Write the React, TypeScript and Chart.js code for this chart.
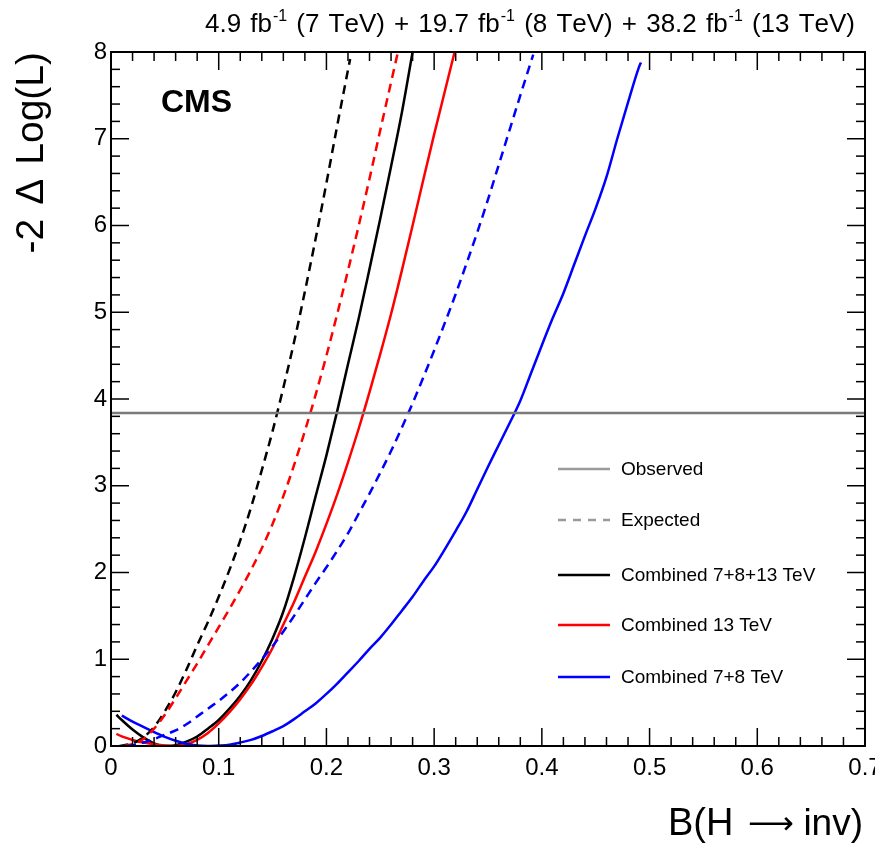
import React, { useEffect, useRef } from "react";
import { Chart, registerables } from "chart.js";
Chart.register(...registerables);

// ---- axes ----
const xTickValues = [0, 0.1, 0.2, 0.3, 0.4, 0.5, 0.6, 0.7];
const xTickLabels = ["0", "0.1", "0.2", "0.3", "0.4", "0.5", "0.6", "0.7"];
const yTickValues = [0, 1, 2, 3, 4, 5, 6, 7, 8];
const yTickLabels = ["0", "1", "2", "3", "4", "5", "6", "7", "8"];

// 95% CL threshold line (-2 dLogL = 3.84)
const thresholdX = [0, 0.7];
const thresholdY = [3.84, 3.84];

// ---- Combined 7+8+13 TeV ----
const combObsX = [0.005, 0.01, 0.02, 0.03, 0.04, 0.05, 0.06, 0.07, 0.08, 0.09, 0.1, 0.11, 0.12, 0.13, 0.14, 0.15, 0.16, 0.17, 0.18, 0.19, 0.2, 0.21, 0.22, 0.23, 0.24, 0.25, 0.26, 0.27, 0.28];
const combObsY = [0.36, 0.3, 0.19, 0.1, 0.03, 0.0, 0.01, 0.05, 0.11, 0.2, 0.3, 0.43, 0.58, 0.76, 0.98, 1.24, 1.55, 1.95, 2.4, 2.88, 3.35, 3.86, 4.4, 4.93, 5.5, 6.08, 6.68, 7.3, 8.0];
const combExpX = [0.008, 0.02, 0.03, 0.04, 0.05, 0.06, 0.07, 0.08, 0.09, 0.1, 0.11, 0.12, 0.13, 0.14, 0.15, 0.16, 0.17, 0.18, 0.19, 0.2, 0.21, 0.222];
const combExpY = [0.0, 0.03, 0.1, 0.22, 0.4, 0.62, 0.88, 1.16, 1.43, 1.72, 2.03, 2.37, 2.75, 3.18, 3.63, 4.13, 4.66, 5.24, 5.85, 6.49, 7.15, 7.92];

// ---- Combined 13 TeV ----
const tev13ObsX = [0.005, 0.01, 0.02, 0.03, 0.04, 0.05, 0.06, 0.07, 0.08, 0.09, 0.1, 0.11, 0.12, 0.13, 0.14, 0.15, 0.16, 0.17, 0.18, 0.19, 0.2, 0.21, 0.22, 0.23, 0.24, 0.25, 0.26, 0.27, 0.28, 0.29, 0.3, 0.31, 0.32];
const tev13ObsY = [0.14, 0.11, 0.07, 0.04, 0.02, 0.005, 0.0, 0.02, 0.07, 0.15, 0.26, 0.39, 0.54, 0.71, 0.91, 1.13, 1.4, 1.66, 1.95, 2.24, 2.56, 2.9, 3.27, 3.66, 4.08, 4.52, 4.98, 5.48, 6.0, 6.53, 7.05, 7.55, 8.05];
const tev13ExpX = [0.012, 0.02, 0.03, 0.04, 0.05, 0.06, 0.07, 0.08, 0.09, 0.1, 0.11, 0.12, 0.13, 0.14, 0.15, 0.16, 0.17, 0.18, 0.19, 0.2, 0.21, 0.22, 0.23, 0.24, 0.25, 0.26, 0.266];
const tev13ExpY = [0.0, 0.02, 0.08, 0.2, 0.36, 0.55, 0.75, 0.95, 1.16, 1.37, 1.58, 1.8, 2.03, 2.28, 2.56, 2.88, 3.24, 3.63, 4.05, 4.5, 4.98, 5.48, 6.0, 6.54, 7.1, 7.65, 7.98];

// ---- Combined 7+8 TeV ----
const tev78ObsX = [0.01, 0.02, 0.03, 0.04, 0.05, 0.06, 0.07, 0.08, 0.09, 0.1, 0.11, 0.12, 0.13, 0.14, 0.15, 0.16, 0.17, 0.18, 0.19, 0.2, 0.21, 0.22, 0.23, 0.24, 0.25, 0.26, 0.27, 0.28, 0.29, 0.3, 0.31, 0.32, 0.33, 0.34, 0.35, 0.36, 0.37, 0.38, 0.39, 0.4, 0.41, 0.42, 0.43, 0.44, 0.45, 0.46, 0.47, 0.48, 0.49, 0.492];
const tev78ObsY = [0.35, 0.28, 0.22, 0.16, 0.105, 0.06, 0.025, 0.005, 0.0, 0.005, 0.015, 0.04, 0.07, 0.115, 0.17, 0.23, 0.31, 0.4, 0.49, 0.6, 0.72, 0.85, 0.98, 1.12, 1.25, 1.4, 1.56, 1.72, 1.9, 2.07, 2.27, 2.48, 2.7, 2.96, 3.22, 3.47, 3.72, 3.98, 4.3, 4.62, 4.93, 5.22, 5.55, 5.88, 6.2, 6.56, 7.0, 7.42, 7.82, 7.88];
const tev78ExpX = [0.015, 0.02, 0.03, 0.04, 0.05, 0.06, 0.07, 0.08, 0.09, 0.1, 0.11, 0.12, 0.13, 0.14, 0.15, 0.16, 0.17, 0.18, 0.19, 0.2, 0.21, 0.22, 0.23, 0.24, 0.25, 0.26, 0.27, 0.28, 0.29, 0.3, 0.31, 0.32, 0.33, 0.34, 0.35, 0.36, 0.37, 0.38, 0.392];
const tev78ExpY = [0.0, 0.01, 0.04, 0.08, 0.13, 0.18, 0.25, 0.34, 0.43, 0.52, 0.62, 0.73, 0.86, 1.0, 1.15, 1.32, 1.5, 1.69, 1.88, 2.06, 2.25, 2.45, 2.68, 2.91, 3.15, 3.4, 3.67, 3.95, 4.25, 4.56, 4.88, 5.21, 5.56, 5.92, 6.3, 6.7, 7.1, 7.5, 7.97];

const legendLabels = ["Observed", "Expected", "Combined 7+8+13 TeV", "Combined 13 TeV", "Combined 7+8 TeV"];

const FONT = '"Liberation Sans", Arial, Helvetica, sans-serif';
const BLACK = "#000000";
const RED = "#ff0000";
const BLUE = "#0000ff";
const GREY_LINE = "#7a7a7a";
const GREY_LEG = "#9a9a9a";
const DASH = [9, 6];

function pts(xs: number[], ys: number[]) {
  return xs.map((x, i) => ({ x, y: ys[i] }));
}

function line(label: string, xs: number[], ys: number[], color: string, dashed: boolean) {
  return {
    label,
    data: pts(xs, ys),
    borderColor: color,
    backgroundColor: color,
    borderWidth: 2.5,
    borderDash: dashed ? DASH : [],
    pointRadius: 0,
    showLine: true,
    fill: false,
    cubicInterpolationMode: "monotone" as const,
  };
}

const decorPlugin = {
  id: "rootDecor",
  afterDatasetsDraw(chart: any) {
    const { ctx, chartArea: a, scales } = chart;
    const xs = scales.x;
    const ys = scales.y;
    ctx.save();
    // frame
    ctx.strokeStyle = "#000";
    ctx.lineWidth = 2;
    ctx.setLineDash([]);
    ctx.strokeRect(a.left, a.top, a.right - a.left, a.bottom - a.top);
    ctx.lineWidth = 1.5;
    const MAJ = 18;
    const MIN = 9;
    const seg = (x1: number, y1: number, x2: number, y2: number) => {
      ctx.beginPath();
      ctx.moveTo(x1, y1);
      ctx.lineTo(x2, y2);
      ctx.stroke();
    };
    // x ticks (bottom & top)
    for (let i = 0; i < xTickValues.length; i++) {
      const px = xs.getPixelForValue(xTickValues[i]);
      seg(px, a.bottom, px, a.bottom - MAJ);
      seg(px, a.top, px, a.top + MAJ);
      if (i < xTickValues.length - 1) {
        const step = (xTickValues[i + 1] - xTickValues[i]) / 5;
        for (let k = 1; k < 5; k++) {
          const p = xs.getPixelForValue(xTickValues[i] + k * step);
          seg(p, a.bottom, p, a.bottom - MIN);
          seg(p, a.top, p, a.top + MIN);
        }
      }
    }
    // y ticks (left & right)
    for (let i = 0; i < yTickValues.length; i++) {
      const py = ys.getPixelForValue(yTickValues[i]);
      seg(a.left, py, a.left + MAJ, py);
      seg(a.right, py, a.right - MAJ, py);
      if (i < yTickValues.length - 1) {
        const step = (yTickValues[i + 1] - yTickValues[i]) / 5;
        for (let k = 1; k < 5; k++) {
          const p = ys.getPixelForValue(yTickValues[i] + k * step);
          seg(a.left, p, a.left + MIN, p);
          seg(a.right, p, a.right - MIN, p);
        }
      }
    }

    ctx.fillStyle = "#000";
    // CMS label
    ctx.font = `bold 32px ${FONT}`;
    ctx.textAlign = "left";
    ctx.textBaseline = "alphabetic";
    ctx.fillText("CMS", 161, 112);

    // header with superscripts, spanning 205..855
    const parts: { t: string; sup: boolean }[] = [
      { t: "4.9 fb", sup: false },
      { t: "-1", sup: true },
      { t: " (7 TeV) + 19.7 fb", sup: false },
      { t: "-1", sup: true },
      { t: " (8 TeV) + 38.2 fb", sup: false },
      { t: "-1", sup: true },
      { t: " (13 TeV)", sup: false },
    ];
    const NORM = `26px ${FONT}`;
    const SUP = `16px ${FONT}`;
    let natural = 0;
    let spaces = 0;
    for (const p of parts) {
      if (p.sup) {
        ctx.font = SUP;
        natural += ctx.measureText(p.t).width + 1;
      } else {
        ctx.font = NORM;
        for (const ch of p.t) {
          natural += ctx.measureText(ch).width;
          if (ch === " ") spaces++;
        }
      }
    }
    const hx0 = 205;
    const hx1 = 855;
    const extra = (hx1 - hx0 - natural) / spaces;
    let cx = hx0;
    const base = 32;
    for (const p of parts) {
      if (p.sup) {
        ctx.font = SUP;
        ctx.fillText(p.t, cx + 1, base - 11);
        cx += ctx.measureText(p.t).width + 1;
      } else {
        ctx.font = NORM;
        for (const ch of p.t) {
          ctx.fillText(ch, cx, base);
          cx += ctx.measureText(ch).width + (ch === " " ? extra : 0);
        }
      }
    }

    // x-axis title
    ctx.textBaseline = "alphabetic";
    ctx.font = `38px ${FONT}`;
    ctx.textAlign = "left";
    ctx.fillText("B(H", 668, 835);
    ctx.textAlign = "right";
    ctx.font = `37px ${FONT}`;
    ctx.fillText("inv)", 863, 835);
    ctx.textAlign = "center";
    ctx.font = `32px "DejaVu Sans", ${FONT}`;
    ctx.fillText("\u27F6", 771, 834);

    // y-axis title
    ctx.save();
    ctx.translate(43, a.top);
    ctx.rotate(-Math.PI / 2);
    ctx.textAlign = "right";
    ctx.textBaseline = "alphabetic";
    ctx.font = `39px ${FONT}`;
    const yt = ["-2", "\u0394", "Log(L)"];
    let ty = 0;
    for (let i = yt.length - 1; i >= 0; i--) {
      ctx.fillText(yt[i], ty, 0);
      ty -= ctx.measureText(yt[i]).width + 14;
    }
    ctx.restore();

    // legend
    const legColors = [GREY_LEG, GREY_LEG, BLACK, RED, BLUE];
    const legDash = [false, true, false, false, false];
    const rowY = [469, 520, 575, 625, 677];
    ctx.font = `19px ${FONT}`;
    ctx.textAlign = "left";
    ctx.textBaseline = "middle";
    for (let i = 0; i < legendLabels.length; i++) {
      ctx.strokeStyle = legColors[i];
      ctx.lineWidth = 2.5;
      ctx.setLineDash(legDash[i] ? [8, 7] : []);
      seg(558, rowY[i], 610, rowY[i]);
      ctx.setLineDash([]);
      ctx.fillStyle = "#000";
      ctx.fillText(legendLabels[i], 621, rowY[i] + 1);
    }
    ctx.restore();
  },
};

export default function App() {
  const ref = useRef<HTMLCanvasElement>(null);
  useEffect(() => {
    const canvas = ref.current;
    if (!canvas) return;
    const chart = new Chart(canvas, {
      type: "scatter",
      data: {
        datasets: [
          { ...line("Observed", thresholdX, thresholdY, GREY_LINE, false), cubicInterpolationMode: "default" as const },
          line("Expected 7+8 TeV", tev78ExpX, tev78ExpY, BLUE, true),
          line("Expected 13 TeV", tev13ExpX, tev13ExpY, RED, true),
          line("Expected 7+8+13 TeV", combExpX, combExpY, BLACK, true),
          line("Combined 7+8 TeV", tev78ObsX, tev78ObsY, BLUE, false),
          line("Combined 13 TeV", tev13ObsX, tev13ObsY, RED, false),
          line("Combined 7+8+13 TeV", combObsX, combObsY, BLACK, false),
        ] as any,
      },
      options: {
        responsive: false,
        animation: false,
        devicePixelRatio: 1,
        layout: { padding: { top: 52, right: 10, left: 0, bottom: 0 } },
        plugins: { legend: { display: false }, tooltip: { enabled: false }, title: { display: false } },
        scales: {
          x: {
            type: "linear",
            min: xTickValues[0],
            max: xTickValues[xTickValues.length - 1],
            grid: { display: false, drawTicks: false },
            border: { display: false },
            ticks: {
              autoSkip: false,
              maxRotation: 0,
              padding: 8,
              color: "#000",
              font: { family: FONT, size: 24 },
              callback: (_v: any, i: number) => xTickLabels[i],
            },
            afterBuildTicks: (s: any) => {
              s.ticks = xTickValues.map((v) => ({ value: v }));
            },
            afterFit: (s: any) => {
              s.height = 98;
              s.paddingLeft = 0;
              s.paddingRight = 0;
            },
          },
          y: {
            type: "linear",
            min: yTickValues[0],
            max: yTickValues[yTickValues.length - 1],
            grid: { display: false, drawTicks: false },
            border: { display: false },
            ticks: {
              autoSkip: false,
              padding: 4,
              color: "#000",
              font: { family: FONT, size: 24 },
              callback: (_v: any, i: number) => yTickLabels[i],
            },
            afterBuildTicks: (s: any) => {
              s.ticks = yTickValues.map((v) => ({ value: v }));
            },
            afterFit: (s: any) => {
              s.width = 111;
              s.paddingTop = 0;
              s.paddingBottom = 0;
            },
          },
        },
      } as any,
      plugins: [decorPlugin],
    });
    return () => chart.destroy();
  }, []);
  return (
    <div style={{ position: "absolute", left: 0, top: 0, width: 875, height: 844, background: "#fff" }}>
      <canvas ref={ref} width={875} height={844} style={{ display: "block" }} />
    </div>
  );
}
